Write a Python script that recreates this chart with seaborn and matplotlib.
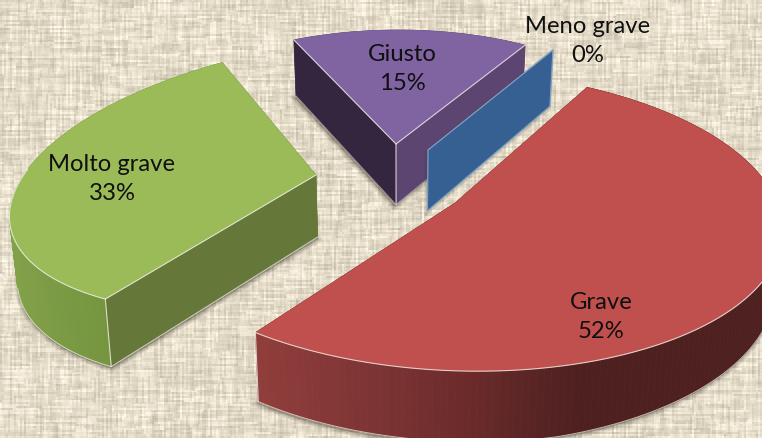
import numpy as np
import matplotlib
matplotlib.use("Agg")
import matplotlib.pyplot as plt
import seaborn as sns

# ---- data ----
categories = ["Giusto", "Meno grave", "Grave", "Molto grave"]
values = [15, 0, 52, 33]

# ---- style ----
top_colors = ["#8064a2", "#366092", "#c0504d", "#9bbb59"]
sns.set_theme(style="white")
plt.rcParams['font.family'] = ['Lato', 'DejaVu Sans']
W, H = 762, 438
fig = plt.figure(figsize=(W/100, H/100), dpi=100)
ax = fig.add_axes([0, 0, 1, 1])
palette = sns.color_palette(top_colors)

# ---- linen background (deterministic weave of short threads) ----
def hash_noise(a):
    s = np.sin(a * 12.9898 + 1.7) * 43758.5453
    return s - np.floor(s)

yy, xx = np.mgrid[0:H, 0:W]
def threads(along, across, length, salt):
    cell = across // 2
    shift = hash_noise(cell + salt) * length
    seg = np.floor((along + shift) / length)
    return hash_noise(cell * 1.37 + seg * 7.13 + salt) - .5

vert = threads(yy, xx, 26, 3.3) + threads(yy, xx, 11, 9.1) * .5
horz = threads(xx, yy, 26, 5.9) + threads(xx, yy, 11, 2.2) * .5
base = np.array([228, 220, 201]) / 255
amp = np.array([26, 26, 27]) / 255
tex = (vert + horz)
bg = np.clip(base[None, None, :] + tex[:, :, None] * amp[None, None, :], 0, 1)
ax.imshow(bg, extent=(0, W, H, 0), aspect="auto", interpolation="bilinear", zorder=0)

# ---- projection of each exploded slice ----
layouts = {
    "Giusto":      dict(ax=396, ay=144, A=255, B=114, C=0,   D=1,  k=0.0),
    "Meno grave":  dict(ax=428, ay=150, A=247, B=116, C=0,   D=0,  k=0.0),
    "Grave":       dict(ax=455, ay=203, A=322, B=148, C=-20, D=0,  k=0.12),
    "Molto grave": dict(ax=316, ay=175, A=305, B=135, C=31,  D=28, k=0.0),
}
START = -23.6

def project(theta, p):
    u, v = np.sin(np.radians(theta)), np.cos(np.radians(theta))
    w = 1 + p["k"]*v
    return p["ax"] + (p["A"]*u + p["C"]*v)/w, p["ay"] - (p["B"]*v + p["D"]*u)/w

def drop(x, y):
    return x + (400 - x)*0.02, y + 55 + 0.045*(y - 20) - 0.03*np.maximum(x - 560, 0)

side_ramps = {
    "Giusto": sns.blend_palette(["#5c4570", "#5c4570"], 64),
    "Meno grave": sns.blend_palette(["#366092", "#366092"], 64),
    "Grave": sns.blend_palette(["#903e3c", "#7f3535", "#6b2b2b", "#4f2020"], 64),
    "Molto grave": sns.blend_palette(["#82a149", "#7b9a44", "#76953f"], 64),
}
ramp_x = {"Giusto": (294, 525), "Meno grave": (428, 554), "Grave": (255, 570), "Molto grave": (10, 105)}
radial_start = {"Giusto": "#35263f", "Meno grave": "#366092", "Grave": "#5d2523", "Molto grave": "#65783a"}
radial_end = {"Giusto": "#5c4570", "Meno grave": "#366092", "Grave": "#5d2523", "Molto grave": "#65783a"}
EDGE = "#f4f1ea"
DARK = "#3a3428"

draw_order = ["Giusto", "Meno grave", "Molto grave", "Grave"]
spans = {}
angle = START
for cat, val in zip(categories, values):
    spans[cat] = (angle, angle + val * 3.6)
    angle += val * 3.6

for cat in draw_order:
    p = layouts[cat]
    t0, t1 = spans[cat]
    i = categories.index(cat)
    z = 2 + draw_order.index(cat) * 2
    if t1 == t0:
        # zero-size slice: only its flat radial wall shows
        rx, ry = project(np.array([t0]), p)
        xs = np.array([p["ax"], rx[0]]); ys = np.array([p["ay"], ry[0]])
        bx, by = drop(xs, ys)
        qx = np.r_[xs, bx[::-1]]; qy = np.r_[ys, by[::-1]]
        ax.fill(qx - 1, qy + 2, color=DARK, alpha=.15, lw=3, zorder=z)
        ax.fill(qx, qy, fc=palette[i], ec="#7fa0c4", lw=.9, zorder=z + .5)
        continue
    th = np.linspace(t0, t1, 160)
    rx, ry = project(th, p)
    tx = np.r_[p["ax"], rx]; ty = np.r_[p["ay"], ry]
    bx, by = drop(tx, ty)
    # soft shadow
    for lw in (5, 3, 1.5):
        ax.fill(bx + (0.5 if cat == "Molto grave" else -1.5), by + 2, color=DARK, alpha=.10, lw=lw, zorder=z)
    # radial walls (in front of the curved wall only for the far slice)
    radial_z = z + .35 if cat == "Giusto" else z + .2
    for end, col in ((0, radial_start[cat]), (-1, radial_end[cat])):
        qx = [p["ax"], rx[end], bx[1:][end], bx[0]]
        qy = [p["ay"], ry[end], by[1:][end], by[0]]
        ax.fill(qx, qy, fc=col, ec=col, lw=.4, zorder=radial_z)
    # curved wall
    lo, hi = ramp_x[cat]
    ramp = side_ramps[cat]
    brx, bry = bx[1:], by[1:]
    for j in range(len(th) - 1):
        f = np.clip(((rx[j] + rx[j+1])/2 - lo)/(hi - lo), 0, 1)
        c = ramp[int(f*63)]
        ax.fill([rx[j], rx[j+1], brx[j+1], brx[j]], [ry[j], ry[j+1], bry[j+1], bry[j]],
                fc=c, ec=c, lw=.5, zorder=z + .3)
    # top face
    ax.fill(tx, ty, fc=palette[i], ec=palette[i], lw=.3, zorder=z + .5)
    # highlights along edges whose wall faces the viewer
    cosines = np.cos(np.radians(th))
    rim_front = cosines < (0.25 if cat == "Molto grave" else 0.02)
    low_front = cosines < (-0.15 if cat == "Molto grave" else 0.02)
    if cat != "Giusto":
        ax.plot(brx[low_front], bry[low_front], color=EDGE, lw=.7, alpha=.7, zorder=z + .45)
        ax.plot(rx[rim_front], ry[rim_front], color=EDGE, lw=.8, alpha=.8, zorder=z + .6)
    near = 0 if ry[0] > ry[-1] else -1
    if cat == "Giusto":
        for e in (0, -1):
            ax.plot([p["ax"], rx[e]], [p["ay"], ry[e]], color=EDGE, lw=.8, alpha=.8, zorder=z + .6)
            ax.plot([bx[0], brx[e]], [by[0], bry[e]], color=EDGE, lw=.6, alpha=.5, zorder=z + .6)
        ax.plot([p["ax"], bx[0]], [p["ay"], by[0]], color=EDGE, lw=.8, alpha=.8, zorder=z + .6)
    if cat == "Molto grave":
        ax.plot([p["ax"], rx[near]], [p["ay"], ry[near]], color=EDGE, lw=.8, alpha=.8, zorder=z + .6)
        ax.plot([bx[0], brx[near]], [by[0], bry[near]], color=EDGE, lw=.7, alpha=.7, zorder=z + .6)
    if cat in ("Molto grave", "Grave"):
        ax.plot([rx[near], brx[near]], [ry[near], bry[near]], color=EDGE, lw=.8, alpha=.8, zorder=z + .6)

# ---- labels ----
label_pos = {"Giusto": (402, 69), "Meno grave": (588, 41), "Grave": (601, 317), "Molto grave": (112, 179)}
for cat, val in zip(categories, values):
    x, y = label_pos[cat]
    ax.text(x, y, f"{cat}\n{val}%", ha="center", va="center", fontsize=17.2,
            color="#101010", linespacing=1.45, zorder=20)

ax.set_xlim(0, W)
ax.set_ylim(H, 0)
ax.axis("off")
fig.savefig("out.png", dpi=100)
